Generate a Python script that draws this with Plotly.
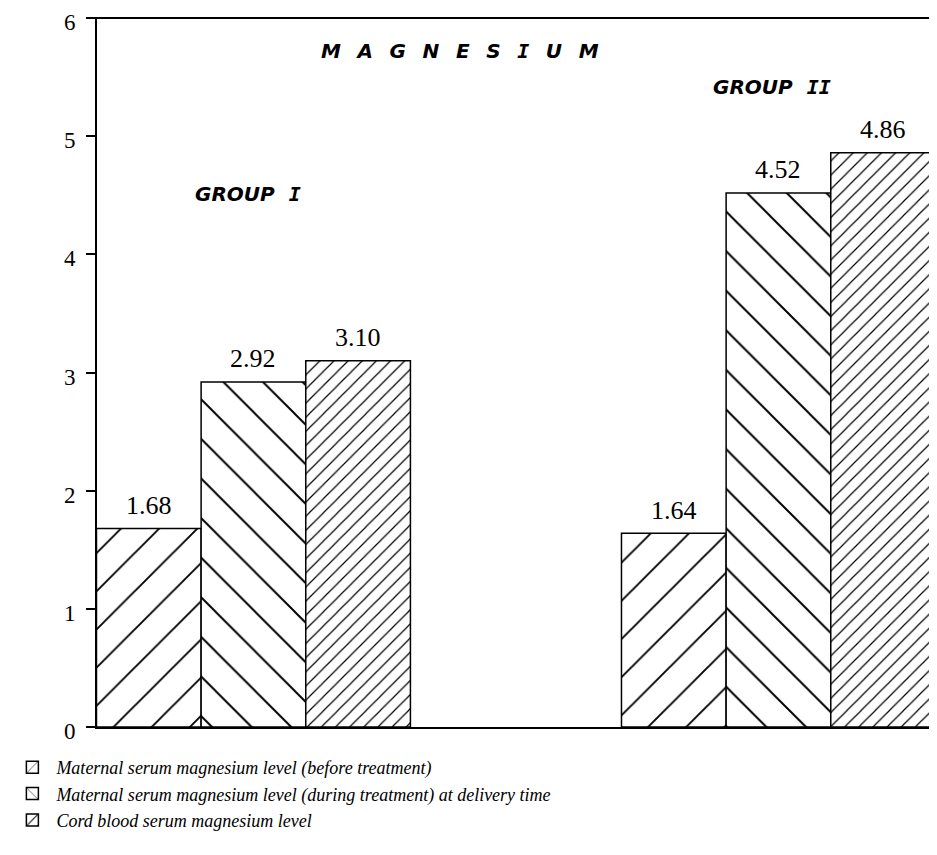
import plotly.graph_objects as go

groups = ["GROUP I", "GROUP II"]
before_treatment = [1.68, 1.64]
during_treatment = [2.92, 4.52]
cord_blood = [3.10, 4.86]
series_names = [
    "Maternal serum magnesium level (before treatment)",
    "Maternal serum magnesium level (during treatment) at delivery time",
    "Cord blood serum magnesium level",
]
y_ticks = [0, 1, 2, 3, 4, 5, 6]

SERIF = "Liberation Serif"
WIDE = "DejaVu Sans"
MONO = "DejaVu Sans Mono"

BARGAP = 0.402
patterns = [
    dict(shape="/", size=27, solidity=0.07),
    dict(shape="\\", size=28, solidity=0.07),
    dict(shape="/", size=10, solidity=0.12),
]

all_series = [before_treatment, during_treatment, cord_blood]

fig = go.Figure()
for name, vals, pat in zip(series_names, all_series, patterns):
    fig.add_trace(go.Bar(
        x=groups, y=vals, name=name,
        marker=dict(color="white",
                    line=dict(color="black", width=1.5),
                    pattern=dict(shape=pat["shape"], size=pat["size"], solidity=pat["solidity"],
                                 fgcolor="black", bgcolor="white", fillmode="replace")),
        cliponaxis=False,
    ))

# value labels above bars (positions through the category axis scale)
bar_w = (1 - BARGAP) / len(all_series)
for si, vals in enumerate(all_series):
    for gi, v in enumerate(vals):
        fig.add_annotation(x=gi + (si - (len(all_series) - 1) / 2) * bar_w, y=v,
                           xref="x", yref="y", text=f"{v:.2f}", showarrow=False,
                           xanchor="center", yanchor="middle", yshift=23,
                           font=dict(family=SERIF, size=26, color="black"))

fig.update_layout(
    width=929, height=847,
    margin=dict(l=89, r=0, t=10, b=128, autoexpand=False),
    paper_bgcolor="white", plot_bgcolor="white",
    barmode="group", bargap=BARGAP, bargroupgap=0,
    showlegend=True,
    legend=dict(x=-0.1055, y=-0.031, xanchor="left", yanchor="top",
                font=dict(family=SERIF, size=18, color="black", style="italic"),
                tracegroupgap=0, itemwidth=38, bgcolor="rgba(0,0,0,0)"),
    xaxis=dict(range=[-0.298, 1.302], showticklabels=False, ticks="", automargin=False,
               showline=True, linecolor="black", linewidth=2, showgrid=False, zeroline=False),
    yaxis=dict(range=[0, 6], tickvals=y_ticks, ticktext=[str(t) for t in y_ticks],
               ticks="outside", ticklen=9, tickwidth=1.5, tickcolor="black", automargin=False,
               showline=True, linecolor="black", linewidth=2, showgrid=False, zeroline=False,
               tickfont=dict(family=SERIF, size=23, color="black"), ticklabelstandoff=6,
               ticklabelshift=4, ticklabeloverflow="allow"),
)

# top border
fig.add_shape(type="line", xref="paper", yref="paper", x0=-0.011, x1=1, y0=1, y1=1,
              line=dict(color="black", width=2))

sp = "\u2002\u2004"
mag = sp.join(["M", "A", "G", "N", "E", "S", f"<span style='font-family:{MONO}'>I</span>", "U", "M"])
fig.add_annotation(text=f"<b>{mag}</b>", xref="paper", yref="paper",
                   x=(460 - 97) / 840, y=(727 - 51) / 709, showarrow=False,
                   xanchor="center", yanchor="middle",
                   font=dict(family=WIDE, size=20, color="black", style="italic"))
fig.add_annotation(text=f"<b>GROUP\u2002\u2009<span style='font-family:{MONO}'>I</span></b>",
                   xref="paper", yref="paper",
                   x=(248 - 97) / 840, y=(727 - 194) / 709, showarrow=False,
                   xanchor="center", yanchor="middle",
                   font=dict(family=WIDE, size=20, color="black", style="italic"))
fig.add_annotation(text=f"<b>GROUP\u2002\u2009<span style='font-family:{MONO}'>II</span></b>",
                   xref="paper", yref="paper",
                   x=(772 - 97) / 840, y=(727 - 87) / 709, showarrow=False,
                   xanchor="center", yanchor="middle",
                   font=dict(family=WIDE, size=20, color="black", style="italic"))

fig.write_html("out.html")
